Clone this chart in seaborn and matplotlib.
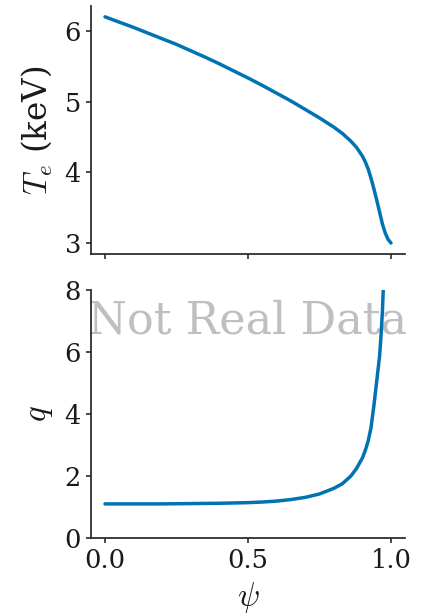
import matplotlib
matplotlib.use("Agg")
import matplotlib.pyplot as plt
import seaborn as sns
import pandas as pd

# Electron temperature profile
psi_te = [0.0, 0.05, 0.1, 0.15, 0.2, 0.25, 0.3, 0.35, 0.4, 0.45, 0.5, 0.55, 0.6,
          0.65, 0.7, 0.75, 0.8, 0.83, 0.86, 0.88, 0.9, 0.91, 0.92, 0.93, 0.94,
          0.95, 0.96, 0.97, 0.98, 0.99, 1.0]
te_kev = [6.20, 6.125, 6.05, 5.97, 5.89, 5.81, 5.72, 5.63, 5.535, 5.435, 5.335, 5.23,
          5.12, 5.01, 4.89, 4.77, 4.64, 4.55, 4.44, 4.35, 4.23, 4.15, 4.05, 3.92,
          3.77, 3.61, 3.44, 3.27, 3.14, 3.05, 3.00]

# Safety factor profile
psi_q = [0.0, 0.1, 0.2, 0.3, 0.4, 0.5, 0.55, 0.6, 0.65, 0.7, 0.75, 0.8, 0.83,
         0.86, 0.88, 0.9, 0.91, 0.92, 0.93, 0.94, 0.95, 0.96, 0.965, 0.97, 0.973]
q_vals = [1.10, 1.10, 1.10, 1.11, 1.12, 1.14, 1.16, 1.19, 1.24, 1.31, 1.42, 1.60,
          1.75, 2.00, 2.25, 2.58, 2.82, 3.12, 3.55, 4.25, 5.05, 5.85, 6.50, 7.30, 8.00]

x_ticks = [0.0, 0.5, 1.0]
te_ticks = [3, 4, 5, 6]
q_ticks = [0, 2, 4, 6, 8]

sns.set_theme(style="ticks", palette="colorblind")
plt.rcParams["font.family"] = ["DejaVu Serif"]
plt.rcParams["mathtext.fontset"] = "cm"
plt.rcParams["xtick.major.size"] = 3.5
plt.rcParams["ytick.major.size"] = 3.5

fig = plt.figure(figsize=(4.23, 6.14), dpi=100)
ax1 = fig.add_axes([0.2144, 0.5858, 0.7437, 0.4052])
ax2 = fig.add_axes([0.2144, 0.1238, 0.7437, 0.4039], sharex=ax1)

line_color = sns.color_palette("colorblind")[0]
df_te = pd.DataFrame({"psi": psi_te, "te": te_kev})
df_q = pd.DataFrame({"psi": psi_q, "q": q_vals})

sns.lineplot(data=df_te, x="psi", y="te", ax=ax1, color=line_color, lw=2.5, zorder=3)
sns.lineplot(data=df_q, x="psi", y="q", ax=ax2, color=line_color, lw=2.5, zorder=3)

ax1.set_xlim(-0.05, 1.05)
ax1.set_yticks(te_ticks)
ax1.set_ylim(2.84, 6.36)
ax2.set_ylim(0, 8)
ax2.set_yticks(q_ticks)
ax2.set_xticks(x_ticks)
ax2.set_xticklabels(["0.0", "0.5", "1.0"])
ax1.tick_params(labelbottom=False)

for ax in (ax1, ax2):
    ax.tick_params(labelsize=18.5, colors="0.2", labelcolor="0.1")
    sns.despine(ax=ax)

ax1.set_xlabel("")
ax1.set_ylabel(r"$T_e$ (keV)", fontsize=23.5, color="0.1", labelpad=7)
ax2.set_ylabel(r"$q$", fontsize=23.5, color="0.1", labelpad=7)
ax2.set_xlabel(r"$\psi$", fontsize=23.5, color="0.1", labelpad=5)

ax2.text(0.5, 0.823, "Not Real Data", transform=ax2.transAxes, ha="center",
         va="baseline", fontsize=32, color="0.75", zorder=1)

fig.savefig("out.png", dpi=100)
